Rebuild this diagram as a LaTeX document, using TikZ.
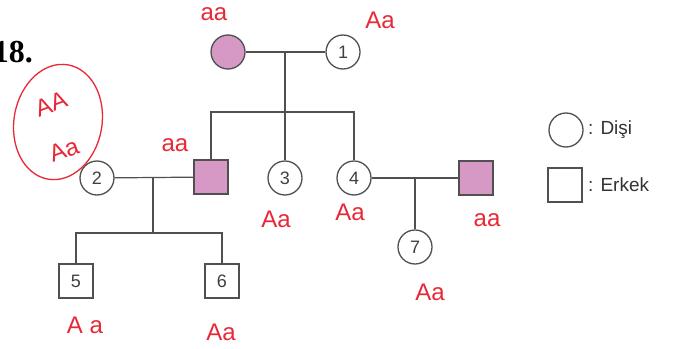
\documentclass[tikz,border=0pt]{standalone}
\usepackage{fontspec}
\setmainfont{Liberation Sans}
\newfontfamily\serifbold{Liberation Serif}
\usetikzlibrary{calc}
\definecolor{linec}{RGB}{80,80,80}
\definecolor{pinkc}{RGB}{214,152,196}
\definecolor{handred}{RGB}{232,40,55}
\begin{document}
\begin{tikzpicture}[x=1pt,y=-1pt,
  conn/.style={draw=linec, line width=1.2pt},
  fem/.style={circle, draw=linec, line width=1.3pt, minimum size=34pt, inner sep=0pt, font=\fontsize{18}{18}\selectfont, text=black!75},
  mal/.style={rectangle, draw=linec, line width=1.3pt, minimum size=34pt, inner sep=0pt, font=\fontsize{18}{18}\selectfont, text=black!75},
  aff/.style={fill=pinkc},
  hand/.style={text=handred, font=\fontsize{24}{24}\selectfont, inner sep=0pt},
  legtext/.style={anchor=west, font=\fontsize{19}{19}\selectfont, text=black!80, inner sep=0pt}]
\useasboundingbox (0,0) rectangle (679,348);
\fill[white] (0,0) rectangle (679,348);
% title
\node[anchor=base east, inner sep=0pt, font=\serifbold\bfseries\fontsize{32}{32}\selectfont] (title) at (33,62) {18.};
% individuals
\node[fem, aff] (p1) at (228,52) {};
\node[fem] (n1) at (343,52) {1};
\node[mal, aff] (s1) at (211,177) {};
\node[fem] (n3) at (285,178) {3};
\node[fem] (n4) at (354,178) {4};
\node[fem] (n2) at (97,178) {2};
\node[mal, aff] (p2) at (476,178) {};
\node[fem] (n7) at (415,247) {7};
\node[mal] (n5) at (76,281) {5};
\node[mal] (n6) at (222,281) {6};
% legend
\node[fem] (lc) at (566,130) {};
\node[mal] (ls) at (565,185) {};
\node[legtext] (lct) at (588,130) {: Dişi};
\node[legtext] (lst) at (588,185) {: Erkek};
% family 1
\draw[conn] (p1) -- (n1);
\coordinate (m1) at (285,52);
\coordinate (sb1) at (285,112);
\draw[conn] (m1) -- (sb1);
\draw[conn] (s1.north) |- (sb1);
\draw[conn] (n3.north) -- (sb1);
\draw[conn] (n4.north) |- (sb1);
% family 2
\draw[conn] (n2) -- (s1);
\coordinate (m2) at (153,178);
\coordinate (sb2) at (153,233);
\draw[conn] (m2) -- (sb2);
\draw[conn] (n5.north) |- (sb2);
\draw[conn] (n6.north) |- (sb2);
% family 3
\draw[conn] (n4) -- (p2);
\coordinate (m3) at (415,178);
\draw[conn] (m3) -- (n7);
% handwriting
\node[hand] (h1) at (214,14) {aa};
\node[hand] (h2) at (380,20) {Aa};
\node[hand, rotate=20] (h3) at (51,104) {AA};
\node[hand, rotate=20] (h4) at (64,150) {Aa};
\draw[handred, line width=1.3pt, rotate around={-10:(58,122)}] (58,122) ellipse (44pt and 58pt);
\node[hand] (h5) at (175,145) {aa};
\node[hand] (h6) at (276,219) {Aa};
\node[hand] (h7) at (350,212) {Aa};
\node[hand] (h8) at (487,220) {aa};
\node[hand] (h9) at (430,292) {Aa};
\node[hand] (h10) at (85,325) {A a};
\node[hand] (h11) at (221,332) {Aa};
\end{tikzpicture}
\end{document}
